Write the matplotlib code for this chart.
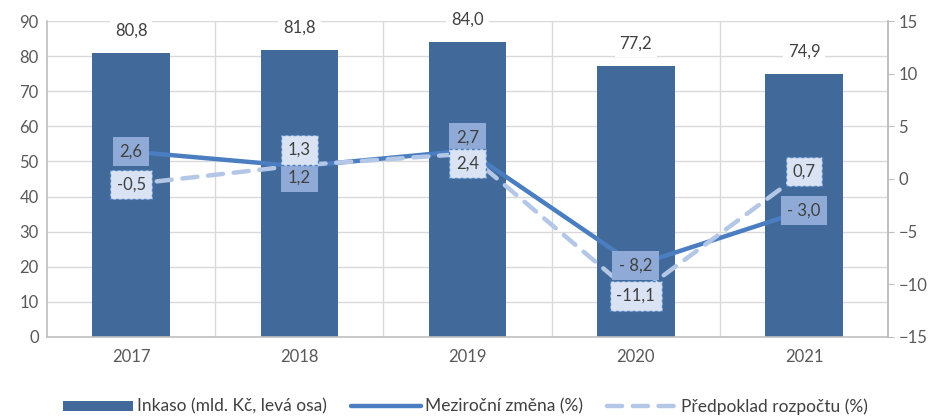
import matplotlib.pyplot as plt
import numpy as np

# data
years = ['2017', '2018', '2019', '2020', '2021']
inkaso = [80.8, 81.8, 84.0, 77.2, 74.9]
mezirocni = [2.6, 1.2, 2.7, -8.2, -3.0]
predpoklad = [-0.5, 1.3, 2.4, -11.1, 0.7]

# label offsets in points (style only)
mez_off = [0, -8, 9, 0, 0]
pred_off = [0, 11, -7, 0, 0]

BAR = '#41699a'
MEZ = '#4a7ec0'
MEZ_BOX = '#8faad6'
PRED = '#b4c7e7'
PRED_BOX = '#dae3f3'
TXT = '#404040'
GRID = '#d9d9d9'

plt.rcParams['font.family'] = ['Lato', 'DejaVu Sans']
plt.rcParams['font.size'] = 12


def fmt(v, space=False):
    s = f'{abs(v):.1f}'.replace('.', ',')
    if v < 0:
        return ('- ' if space else '-') + s
    return s


fig = plt.figure(figsize=(9.31, 4.16), dpi=100)
ax1 = fig.add_axes([0.0505, 0.19, 0.9035, 0.7595])
x = np.arange(len(years))

bars = ax1.bar(x, inkaso, width=0.46, color=BAR, zorder=2,
               label='Inkaso (mld. Kč, levá osa)')
for xi, v in zip(x, inkaso):
    ax1.annotate(fmt(v), (xi, v), xytext=(0, 16), textcoords='offset points',
                 ha='center', va='center', color=TXT, fontsize=12, zorder=3,
                 bbox=dict(boxstyle='square,pad=0.3', fc='white', ec='none'))

ax1.set_xlim(-0.5, 4.5)
ax1.set_ylim(0, 90)
ax1.set_yticks(range(0, 91, 10))
ax1.set_xticks(x)
ax1.set_xticklabels(years)
ax1.set_xticks(x[:-1] + 0.5, minor=True)
ax1.grid(axis='y', color=GRID, lw=1, zorder=0)
ax1.grid(axis='x', which='minor', color=GRID, lw=1, zorder=0)
ax1.set_axisbelow(True)
ax1.tick_params(axis='both', which='both', length=0, colors='#595959', labelsize=12)
ax1.tick_params(axis='x', pad=9)
ax1.tick_params(axis='y', pad=6)
ax1.spines['top'].set_visible(False)
for s in ['left', 'bottom', 'right']:
    ax1.spines[s].set_color('#bfbfbf')
    ax1.spines[s].set_linewidth(1.2)

ax2 = ax1.twinx()
ax2.set_ylim(-15, 15)
ax2.set_yticks(range(-15, 16, 5))
ax2.tick_params(axis='y', length=4, color='#bfbfbf', labelcolor='#595959', labelsize=12)
for s in ['top', 'left', 'bottom']:
    ax2.spines[s].set_visible(False)
ax2.spines['right'].set_color('#bfbfbf')
ax2.spines['right'].set_linewidth(1.2)

ax2.plot(x, mezirocni, color=MEZ, lw=3.2, solid_capstyle='round', zorder=3,
         label='Meziroční změna (%)')
ax2.plot(x, predpoklad, color=PRED, lw=3.2, dashes=(3.4, 2.4), dash_capstyle='round',
         zorder=4, label='Předpoklad rozpočtu (%)')

for xi, v, o in zip(x, mezirocni, mez_off):
    ax2.annotate(fmt(v, space=True), (xi, v), xytext=(0, o), textcoords='offset points',
                 ha='center', va='center', color=TXT, fontsize=12, zorder=6,
                 bbox=dict(boxstyle='square,pad=0.4', fc=MEZ_BOX, ec='none'))
for xi, v, o in zip(x, predpoklad, pred_off):
    ax2.annotate(fmt(v), (xi, v), xytext=(0, o), textcoords='offset points',
                 ha='center', va='center', color=TXT, fontsize=12, zorder=7,
                 bbox=dict(boxstyle='square,pad=0.4', fc=PRED_BOX, ec=MEZ,
                           ls=(0, (2, 2)), lw=1))

h1, l1 = ax1.get_legend_handles_labels()
h2, l2 = ax2.get_legend_handles_labels()
fig.legend(h1 + h2, l1 + l2, loc='lower center', bbox_to_anchor=(0.5, -0.035),
           ncol=3, frameon=False, handlelength=4.0, handleheight=0.55,
           columnspacing=1.4, handletextpad=0.25, labelcolor=TXT, fontsize=12.5)

fig.savefig('out.png', dpi=100)
